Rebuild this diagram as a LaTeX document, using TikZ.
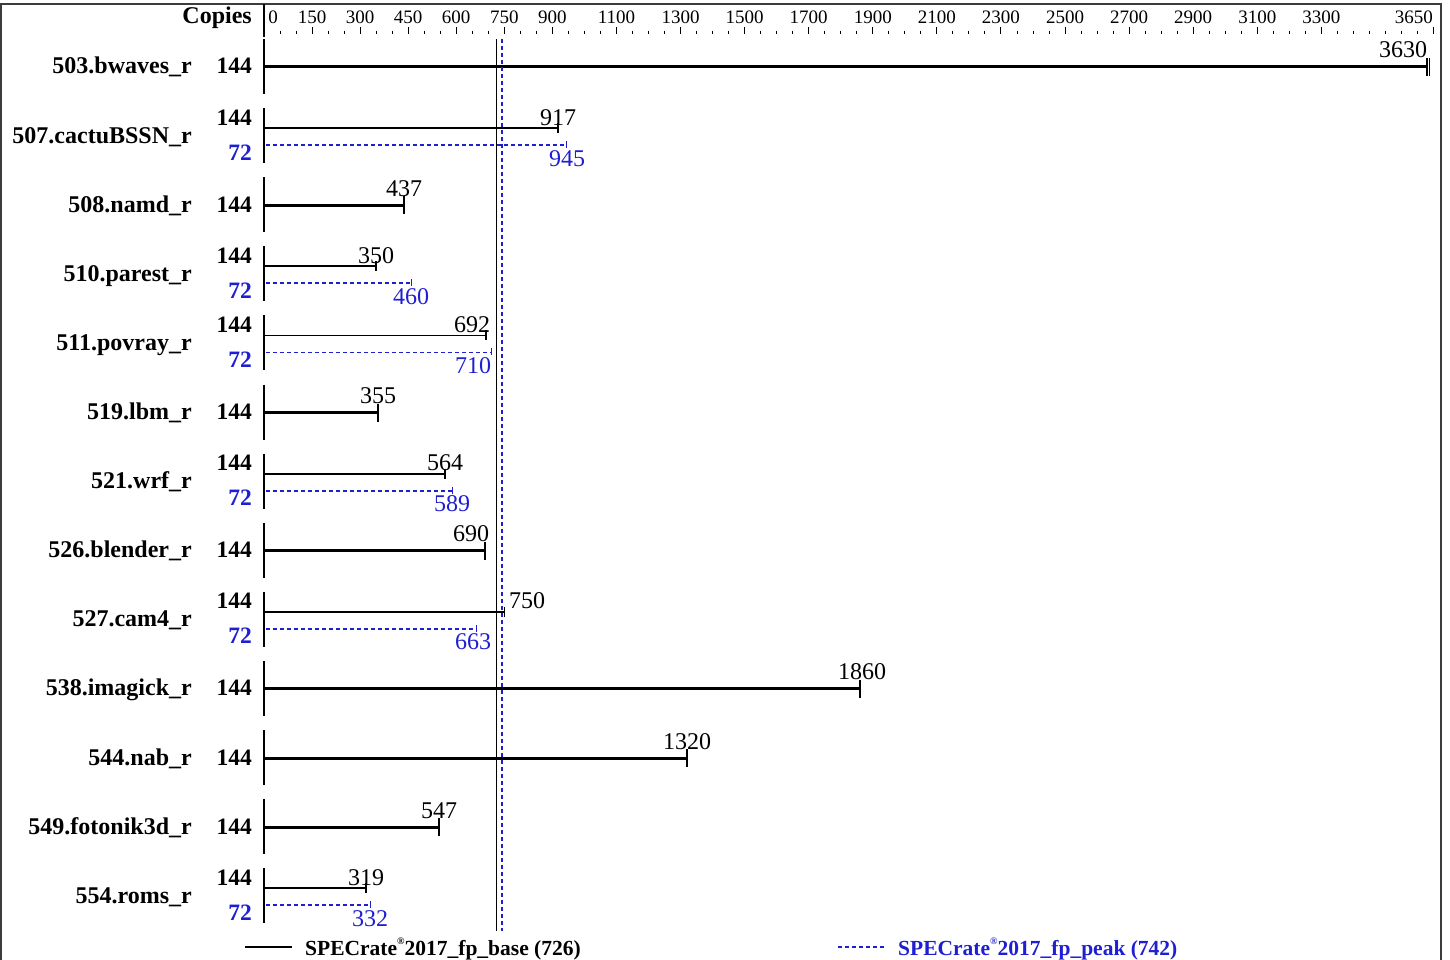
\documentclass[tikz,border=0pt]{standalone}
\usepackage{fontspec}
\setmainfont{Liberation Serif}
\definecolor{peakblue}{RGB}{30,30,210}
\definecolor{framec}{RGB}{60,60,60}
\tikzset{
  namelbl/.style={font=\fontsize{24}{26}\selectfont\bfseries, inner sep=0pt, anchor=base east},
  copylbl/.style={font=\fontsize{23.5}{26}\selectfont\bfseries, inner sep=0pt, anchor=base east},
  peakcopy/.style={copylbl, text=peakblue},
  vallbl/.style={font=\fontsize{24}{26}\selectfont, inner sep=0pt, anchor=base},
  peakval/.style={vallbl, text=peakblue},
  axlbl/.style={font=\fontsize{19}{21}\selectfont, inner sep=0pt, anchor=base},
  legtxt/.style={font=\fontsize{21.5}{24}\selectfont\bfseries, inner sep=0pt, anchor=base west},
  rowaxis/.style={line width=1.6pt, black},
  thickbar/.style={line width=3pt, black},
  thinbar/.style={line width=1.8pt, black},
  peakbar/.style={line width=1.8pt, peakblue, dash pattern=on 4pt off 3pt},
  endtick/.style={line width=1.6pt, black},
  peaktick/.style={line width=1.4pt, peakblue},
  meanbase/.style={line width=1.4pt, black},
  meanpeak/.style={line width=1.6pt, peakblue, dash pattern=on 4pt off 3pt},
}
\begin{document}
\begin{tikzpicture}[x=1pt,y=-1pt]
\useasboundingbox (0,0) rectangle (1450,960);
% frame
\coordinate (f1) at (1,960);
\coordinate (f2) at (1,4);
\coordinate (f3) at (1441,4);
\coordinate (f4) at (1441,960);
\draw[framec, line width=2pt] (f1) -- (f2) -- (f3) -- (f4);
% top axis
\node[namelbl] (copies) at (252,24) {Copies};
\coordinate (ax1) at (264,4);
\coordinate (ax2) at (264,37);
\draw[line width=1.2pt] (ax1) -- (ax2);
\foreach \k in {1,...,73} {
  \pgfmathsetmacro\tx{264+0.3204*50*\k}
  \draw[line width=0.9pt] (\tx,31) -- (\tx,34);
}
\foreach \v in {150,300,450,600,750,900,1100,1300,1500,1700,1900,2100,2300,2500,2700,2900,3100,3300,3650} {
  \pgfmathsetmacro\tx{264+0.3204*\v}
  \draw[line width=0.9pt] (\tx,27) -- (\tx,34);
}
\foreach \v in {150,300,450,600,750,900,1100,1300,1500,1700,1900,2100,2300,2500,2700,2900,3100,3300} {
  \pgfmathsetmacro\tx{264+0.3204*\v}
  \node[axlbl] (ax\v) at (\tx,24) {\v};
}
\node[axlbl] (ax0) at (273,24) {0};
\node[axlbl, anchor=base east] (ax3650) at (1433,24) {3650};
% single rows
\foreach \i/\nm/\v/\lx in {0/503.bwaves\_r/3630/1403, 2/508.namd\_r/437/404, 5/519.lbm\_r/355/378, 7/526.blender\_r/690/471, 9/538.imagick\_r/1860/862, 10/544.nab\_r/1320/687, 11/549.fotonik3d\_r/547/439} {
  \pgfmathsetmacro\cy{66+69.1*\i}
  \pgfmathsetmacro\by{\cy+1}
  \pgfmathsetmacro\bx{264+0.3204*\v}
  \node[namelbl] (n\i) at (192,\cy+8) {\nm};
  \node[copylbl] (c\i) at (252,\cy+8) {144};
  \coordinate (r\i a) at (264,\cy-27);
  \coordinate (r\i b) at (264,\cy+28);
  \draw[rowaxis] (r\i a) -- (r\i b);
  \coordinate (b\i s) at (264,\by);
  \coordinate (b\i e) at (\bx,\by);
  \draw[thickbar] (b\i s) -- (b\i e);
  \draw[endtick] (\bx,\by-9) -- (\bx,\by+9);
  \node[vallbl] (v\i) at (\lx,\by-9) {\v};
}
% extra end mark of the longest bar
\coordinate (xt1) at (1429.5,58);
\coordinate (xt2) at (1429.5,76);
\draw[endtick] (xt1) -- (xt2);
% double rows
\foreach \i/\nm/\v/\p/\lx/\px in {1/507.cactuBSSN\_r/917/945/558/567, 3/510.parest\_r/350/460/376/411, 4/511.povray\_r/692/710/472/473, 6/521.wrf\_r/564/589/445/452, 8/527.cam4\_r/750/663/527/473, 12/554.roms\_r/319/332/366/370} {
  \pgfmathsetmacro\cy{66+69.1*\i}
  \pgfmathsetmacro\by{\cy-7}
  \pgfmathsetmacro\py{\cy+10}
  \pgfmathsetmacro\bx{264+0.3204*\v}
  \pgfmathsetmacro\pxx{264+0.3204*\p}
  \node[namelbl] (n\i) at (192,\cy+8) {\nm};
  \node[copylbl] (c\i) at (252,\cy-10) {144};
  \node[peakcopy] (p\i) at (252,\cy+25) {72};
  \coordinate (r\i a) at (264,\cy-27);
  \coordinate (r\i b) at (264,\cy+28);
  \draw[rowaxis] (r\i a) -- (r\i b);
  \coordinate (b\i s) at (264,\by);
  \coordinate (b\i e) at (\bx,\by);
  \draw[thinbar] (b\i s) -- (b\i e);
  \draw[endtick] (\bx,\by-5) -- (\bx,\by+5);
  \node[vallbl] (v\i) at (\lx,\by-3) {\v};
  \coordinate (q\i s) at (266,\py);
  \coordinate (q\i e) at (\pxx,\py);
  \draw[peakbar] (q\i s) -- (q\i e);
  \draw[peaktick] (\pxx,\py-4) -- (\pxx,\py+3);
  \node[peakval] (w\i) at (\px,\py+21) {\p};
}
% mean lines
\coordinate (mb1) at (496.6,39);
\coordinate (mb2) at (496.6,931);
\draw[meanbase] (mb1) -- (mb2);
\coordinate (mp1) at (501.7,39);
\coordinate (mp2) at (501.7,931);
\draw[meanpeak] (mp1) -- (mp2);
% legend
\coordinate (lb1) at (245,947);
\coordinate (lb2) at (292,947);
\draw[line width=1.4pt] (lb1) -- (lb2);
\node[legtxt] (legbase) at (305,955) {SPECrate\raisebox{0.5em}{\fontsize{10}{10}\selectfont ®}2017\_fp\_base (726)};
\coordinate (lp1) at (838,947);
\coordinate (lp2) at (884,947);
\draw[meanpeak] (lp1) -- (lp2);
\node[legtxt, text=peakblue] (legpeak) at (898,955) {SPECrate\raisebox{0.5em}{\fontsize{10}{10}\selectfont ®}2017\_fp\_peak (742)};
\end{tikzpicture}
\end{document}
